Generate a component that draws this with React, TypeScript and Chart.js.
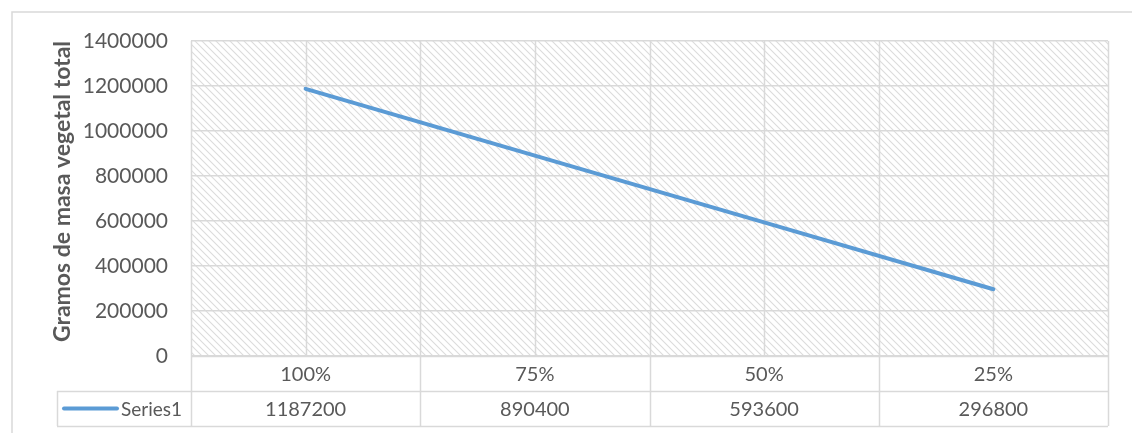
import React, { useEffect, useRef } from "react";
import { Chart, registerables } from "chart.js";

Chart.register(...registerables);

const categories = ["100%", "75%", "50%", "25%"];
const seriesName = "Series1";
const seriesValues = [1187200, 890400, 593600, 296800];
const yMin = 0;
const yMax = 1400000;
const yStep = 200000;
const yTitle = "Gramos de masa vegetal total";

const W = 1132;
const H = 433;
const FONT = "Lato, 'Open Sans', sans-serif";
const TEXT = "#595959";
const GRID = "#d9d9d9";
const BLUE = "#5b9bd5";

function makePattern(ctx: CanvasRenderingContext2D) {
  const s = 7;
  const c = document.createElement("canvas");
  c.width = s;
  c.height = s;
  const g = c.getContext("2d")!;
  g.fillStyle = "#ffffff";
  g.fillRect(0, 0, s, s);
  g.strokeStyle = "#dcdcdc";
  g.lineWidth = 1.1;
  g.beginPath();
  g.moveTo(-1, -1);
  g.lineTo(s + 1, s + 1);
  g.moveTo(-2, s - 2);
  g.lineTo(2, s + 2);
  g.moveTo(s - 2, -2);
  g.lineTo(s + 2, 2);
  g.stroke();
  return ctx.createPattern(c, "repeat");
}

const decorPlugin = {
  id: "decor",
  beforeDraw(chart: any) {
    const { ctx, chartArea } = chart;
    ctx.save();
    ctx.fillStyle = "#ffffff";
    ctx.fillRect(0, 0, W, H);
    ctx.strokeStyle = GRID;
    ctx.lineWidth = 1.5;
    ctx.strokeRect(12, 12, W + 20, H + 20);
    const pat = makePattern(ctx);
    if (pat) {
      ctx.fillStyle = pat;
      ctx.fillRect(chartArea.left, chartArea.top, chartArea.right - chartArea.left, chartArea.bottom - chartArea.top);
    }
    ctx.restore();
  },
  beforeDatasetsDraw(chart: any) {
    const { ctx, chartArea, scales } = chart;
    const x = scales.x;
    ctx.save();
    ctx.strokeStyle = GRID;
    ctx.lineWidth = 1.5;
    ctx.beginPath();
    for (let i = 0; i <= categories.length; i++) {
      const px = Math.round(x.getPixelForValue(i - 0.5)) + 0.5;
      ctx.moveTo(px, chartArea.top);
      ctx.lineTo(px, chartArea.bottom);
    }
    for (let i = 0; i < categories.length; i++) {
      const px = Math.round(x.getPixelForValue(i)) + 0.5;
      ctx.moveTo(px, chartArea.top);
      ctx.lineTo(px, chartArea.bottom);
    }
    ctx.stroke();
    ctx.restore();
  },
  afterDraw(chart: any) {
    const { ctx, chartArea, scales } = chart;
    const x = scales.x;
    const top = chartArea.bottom;
    const rowH = 35;
    const r1 = top + rowH;
    const r2 = r1 + rowH;
    const tableLeft = 57;
    ctx.save();
    ctx.strokeStyle = GRID;
    ctx.lineWidth = 1.5;
    ctx.beginPath();
    ctx.moveTo(chartArea.left, top + 0.5);
    ctx.lineTo(chartArea.right, top + 0.5);
    ctx.moveTo(tableLeft, r1 + 0.5);
    ctx.lineTo(chartArea.right, r1 + 0.5);
    ctx.moveTo(tableLeft, r2 + 0.5);
    ctx.lineTo(chartArea.right, r2 + 0.5);
    ctx.moveTo(tableLeft + 0.5, r1);
    ctx.lineTo(tableLeft + 0.5, r2);
    for (let i = 0; i <= categories.length; i++) {
      const px = Math.round(x.getPixelForValue(i - 0.5)) + 0.5;
      ctx.moveTo(px, top);
      ctx.lineTo(px, r2);
    }
    ctx.stroke();

    ctx.fillStyle = TEXT;
    ctx.textBaseline = "middle";
    ctx.textAlign = "center";
    ctx.font = `20px ${FONT}`;
    for (let i = 0; i < categories.length; i++) {
      const px = x.getPixelForValue(i);
      ctx.fillText(categories[i], px, top + rowH / 2 + 1);
      ctx.fillText(String(seriesValues[i]), px, r1 + rowH / 2 + 1);
    }
    ctx.strokeStyle = BLUE;
    ctx.lineWidth = 4;
    ctx.lineCap = "round";
    ctx.beginPath();
    ctx.moveTo(64, r1 + rowH / 2);
    ctx.lineTo(117, r1 + rowH / 2);
    ctx.stroke();
    ctx.textAlign = "left";
    ctx.font = `19px ${FONT}`;
    ctx.fillText(seriesName, 121, r1 + rowH / 2 + 1);

    ctx.save();
    ctx.translate(63, (chartArea.top + chartArea.bottom) / 2 - 7);
    ctx.rotate(-Math.PI / 2);
    ctx.textAlign = "center";
    ctx.font = `bold 23px ${FONT}`;
    ctx.fillText(yTitle, 0, 0);
    ctx.restore();
    ctx.restore();
  },
};

export default function App() {
  const ref = useRef<HTMLCanvasElement | null>(null);
  useEffect(() => {
    if (!ref.current) return;
    const chart = new Chart(ref.current, {
      type: "line",
      data: {
        labels: categories,
        datasets: [
          {
            label: seriesName,
            data: seriesValues,
            borderColor: BLUE,
            backgroundColor: BLUE,
            borderWidth: 4,
            borderCapStyle: "round",
            pointRadius: 0,
            tension: 0,
          },
        ],
      },
      options: {
        animation: false,
        responsive: false,
        devicePixelRatio: 1,
        layout: { padding: { left: 0, top: 41, right: 24, bottom: 77 } },
        plugins: { legend: { display: false }, tooltip: { enabled: false } },
        scales: {
          x: {
            type: "category",
            offset: true,
            display: false,
          },
          y: {
            min: yMin,
            max: yMax,
            ticks: {
              stepSize: yStep,
              padding: 23,
              color: TEXT,
              font: { family: FONT, size: 21 },
              callback: (v: any) => String(v),
            },
            grid: { color: GRID, lineWidth: 1.5, drawTicks: false },
            border: { display: false },
            afterFit: (scale: any) => {
              scale.width = 191;
            },
          },
        },
      },
      plugins: [decorPlugin],
    });
    return () => chart.destroy();
  }, []);
  return (
    <div style={{ position: "absolute", left: 0, top: 0, width: W, height: H }}>
      <canvas ref={ref} width={W} height={H} style={{ width: W, height: H, display: "block" }} />
    </div>
  );
}
